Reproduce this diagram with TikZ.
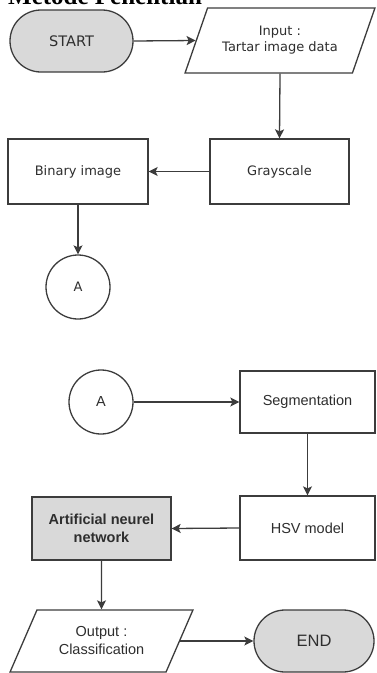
\documentclass[tikz,border=0pt]{standalone}
\usepackage{fontspec}
\setmainfont{Liberation Sans}
\newfontfamily\topfont{DejaVu Sans}
\newfontfamily\titlefont{Liberation Serif}
\usetikzlibrary{shapes.geometric,shapes.misc,arrows.meta}
\definecolor{linegray}{HTML}{3C3C3C}
\definecolor{txtgray}{HTML}{2E2E2E}
\definecolor{fillgray}{HTML}{D9D9D9}
\tikzset{
  base/.style={draw=linegray, line width=1.3pt, text=txtgray, align=center, inner sep=2pt, fill=white},
  box/.style={base, rectangle},
  term/.style={base, rounded rectangle, fill=fillgray},
  io/.style={base, trapezium, trapezium left angle=60, trapezium right angle=120, trapezium stretches=true},
  conn/.style={base, circle, minimum size=64pt},
  arr/.style={draw=linegray, line width=1.3pt, -{Stealth[length=9pt,width=9pt,inset=2pt]}},
  topf/.style={font=\topfont\fontsize{13}{16}\selectfont},
  botf/.style={font=\fontsize{14.5}{18}\selectfont},
}
\begin{document}
\begin{tikzpicture}[x=1pt,y=-1pt]
\useasboundingbox (0,0) rectangle (376,673);
\node[anchor=base west, font=\titlefont\bfseries\fontsize{25}{30}\selectfont, text=black, inner sep=0pt] (title) at (8,4.5) {Metode Penelitian};
% top part
\node[term, font=\topfont\fontsize{14.5}{17}\selectfont, minimum width=127pt, minimum height=62pt] (start) at (71.5,41) {START};
\node[io, topf, minimum width=190pt, minimum height=65pt] (inp) at (280,40.5) {Input :\\Tartar image data};
\node[box, topf, minimum width=139pt, minimum height=65pt] (gray) at (279.5,171.5) {Grayscale};
\node[box, topf, minimum width=140pt, minimum height=65pt] (bin) at (78,171.5) {Binary image};
\node[conn, topf] (a1) at (78,287) {A};
\draw[arr] (start.east) -- (inp.left side);
\draw[arr] (inp.south) -- (gray.north);
\draw[arr] (gray.west) -- (bin.east);
\draw[arr] (bin.south) -- (a1.north);
% bottom part
\node[conn, botf] (a2) at (101,402) {A};
\node[box, botf, minimum width=135pt, minimum height=62pt] (seg) at (307.5,402) {Segmentation};
\node[box, botf, minimum width=135pt, minimum height=64pt] (hsv) at (307.5,528) {HSV model};
\node[box, botf, fill=fillgray, font=\bfseries\fontsize{14.5}{18}\selectfont, minimum width=139pt, minimum height=63pt] (ann) at (101.5,528.5) {Artificial neurel\\network};
\node[io, botf, minimum width=183pt, minimum height=62pt] (out) at (101.5,641) {Output :\\Classification};
\node[term, font=\fontsize{16.5}{19}\selectfont, minimum width=124pt, minimum height=62pt] (end) at (314,641) {END};
\draw[arr] (a2.east) -- (seg.west);
\draw[arr] (seg.south) -- (hsv.north);
\draw[arr] (hsv.west) -- (ann.east);
\draw[arr] (ann.south) -- (out.north);
\draw[arr] (out.right side) -- (end.west);
\end{tikzpicture}
\end{document}
